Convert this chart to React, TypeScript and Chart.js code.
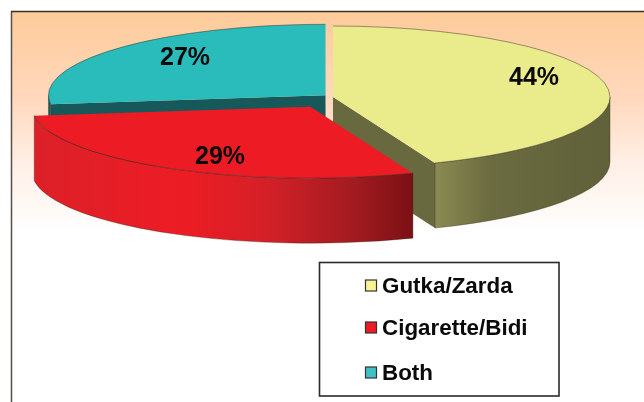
import React, { useEffect, useRef } from "react";
import { Chart, registerables } from "chart.js";

Chart.register(...registerables);

const categories = ["Gutka/Zarda", "Cigarette/Bidi", "Both"];
const shares = [44, 29, 27];
const sliceColors = ["#EAEB8B", "#ED1C24", "#2ABBBB"];
const swatchColors = ["#F8F493", "#ED1C24", "#40BFC4"];
const sliceOffsets = [0, 97.5, 21.9];

const W = 644;
const H = 402;
const CX = 333;
const CY = 97;
const RX = 277;
const RY = 71;
const DEPTH = 65;
const labelSpots = [
  [534, 78],
  [220, 157],
  [185, 58],
];
const legendBox = { left: 319.5, top: 262.5, right: 559, bottom: 396 };
const legendRows = [286, 328, 373];

type Geo = { x: number; y: number; rx: number; ry: number; a0: number; a1: number };

function geometry(arc: any): Geo {
  const sx = RX / arc.outerRadius;
  const sy = RY / arc.outerRadius;
  const off = (arc.options.offset || 0) / 4;
  const mid = (arc.startAngle + arc.endAngle) / 2;
  const grow = off * (1 - Math.sin(Math.min(Math.PI, arc.circumference)));
  return {
    x: CX + Math.cos(mid) * off * sx,
    y: CY + Math.sin(mid) * off * sy,
    rx: (arc.outerRadius + grow) * sx,
    ry: (arc.outerRadius + grow) * sy,
    a0: arc.startAngle,
    a1: arc.endAngle,
  };
}

function outerWall(ctx: CanvasRenderingContext2D, g: Geo, fill: any) {
  const s = Math.max(g.a0, 0);
  const e = Math.min(g.a1, Math.PI);
  if (e <= s) return;
  ctx.beginPath();
  ctx.ellipse(g.x, g.y, g.rx, g.ry, 0, s, e);
  ctx.ellipse(g.x, g.y + DEPTH, g.rx, g.ry, 0, e, s, true);
  ctx.closePath();
  ctx.fillStyle = fill;
  ctx.fill();
  ctx.strokeStyle = "rgba(50,40,30,0.45)";
  ctx.lineWidth = 0.8;
  ctx.stroke();
}

function radialWall(ctx: CanvasRenderingContext2D, g: Geo, angle: number, fill: string) {
  const ex = g.x + Math.cos(angle) * g.rx;
  const ey = g.y + Math.sin(angle) * g.ry;
  ctx.beginPath();
  ctx.moveTo(g.x, g.y);
  ctx.lineTo(ex, ey);
  ctx.lineTo(ex, ey + DEPTH);
  ctx.lineTo(g.x, g.y + DEPTH);
  ctx.closePath();
  ctx.fillStyle = fill;
  ctx.fill();
}

function xGradient(ctx: CanvasRenderingContext2D, x0: number, x1: number, stops: [number, string][]) {
  const grad = ctx.createLinearGradient(x0, 0, x1, 0);
  stops.forEach(([p, c]) => grad.addColorStop(p, c));
  return grad;
}

const pie3d = {
  id: "pie3d",
  beforeDraw(chart: any) {
    const { ctx } = chart;
    ctx.save();
    const bg = ctx.createLinearGradient(0, 11, 0, 226);
    bg.addColorStop(0, "#FDCB99");
    bg.addColorStop(0.4, "#FFD8BC");
    bg.addColorStop(0.72, "#FFF0E6");
    bg.addColorStop(1, "#FFFDFC");
    ctx.fillStyle = bg;
    ctx.fillRect(11, 11, W - 11, 215);
    ctx.lineWidth = 1.5;
    ctx.strokeStyle = "#555049";
    ctx.beginPath();
    ctx.moveTo(11.5, H);
    ctx.lineTo(11.5, 11.5);
    ctx.stroke();
    ctx.strokeStyle = "#3E2F24";
    ctx.beginPath();
    ctx.moveTo(11, 11.5);
    ctx.lineTo(W, 11.5);
    ctx.stroke();
    ctx.restore();
  },
  beforeDatasetsDraw(chart: any) {
    const { ctx } = chart;
    const arcs = chart.getDatasetMeta(0).data;
    const [yellow, red, teal] = arcs.map(geometry);
    ctx.save();
    radialWall(ctx, teal, teal.a0, "#17585A");
    outerWall(ctx, teal, "#17585A");
    radialWall(ctx, yellow, yellow.a1, "#69693F");
    outerWall(
      ctx,
      yellow,
      xGradient(ctx, 436, 610, [
        [0, "#8A8A52"],
        [0.3, "#6C6C41"],
        [1, "#606039"],
      ])
    );
    outerWall(
      ctx,
      red,
      xGradient(ctx, 35, 414, [
        [0, "#DC2028"],
        [0.4, "#ED1C24"],
        [0.62, "#D32028"],
        [0.85, "#A01B20"],
        [1, "#7A1014"],
      ])
    );
    ctx.restore();
  },
  beforeDatasetDraw(chart: any) {
    const arc = chart.getDatasetMeta(0).data[0];
    const { ctx } = chart;
    ctx.save();
    ctx.translate(CX, CY);
    ctx.scale(RX / arc.outerRadius, RY / arc.outerRadius);
    ctx.translate(-arc.x, -arc.y);
  },
  afterDatasetDraw(chart: any) {
    chart.ctx.restore();
  },
  afterDatasetsDraw(chart: any) {
    const { ctx } = chart;
    const arcs = chart.getDatasetMeta(0).data;
    ctx.save();
    ctx.lineWidth = 0.8;
    ctx.strokeStyle = "rgba(50,45,35,0.6)";
    arcs.forEach((arc: any) => {
      const g = geometry(arc);
      ctx.beginPath();
      ctx.ellipse(g.x, g.y, g.rx, g.ry, 0, g.a0, g.a1);
      ctx.stroke();
    });

    ctx.fillStyle = "#0A0A0A";
    ctx.font = 'bold 25px "Liberation Sans", Arial, sans-serif';
    ctx.textAlign = "center";
    ctx.textBaseline = "middle";
    shares.forEach((v, i) => {
      ctx.fillText(`${v}%`, labelSpots[i][0], labelSpots[i][1]);
    });

    // legend
    const b = legendBox;
    ctx.fillStyle = "#FFFFFF";
    ctx.fillRect(b.left, b.top, b.right - b.left, b.bottom - b.top);
    ctx.strokeStyle = "#2A2A2A";
    ctx.lineWidth = 1.6;
    ctx.strokeRect(b.left, b.top, b.right - b.left, b.bottom - b.top);
    ctx.textAlign = "left";
    ctx.font = 'bold 22.4px "Liberation Sans", Arial, sans-serif';
    categories.forEach((name, i) => {
      const y = legendRows[i];
      ctx.fillStyle = swatchColors[i];
      ctx.fillRect(365.5, y - 6, 11, 11);
      ctx.strokeStyle = "#333333";
      ctx.lineWidth = 1.2;
      ctx.strokeRect(365.5, y - 6, 11, 11);
      ctx.fillStyle = "#0A0A0A";
      ctx.fillText(name, 382, y + 1);
    });
    ctx.restore();
  },
};

export default function App() {
  const ref = useRef<HTMLCanvasElement>(null);
  useEffect(() => {
    if (!ref.current) return;
    const chart = new Chart(ref.current, {
      type: "pie",
      data: {
        labels: categories,
        datasets: [
          {
            data: shares,
            backgroundColor: sliceColors,
            borderWidth: 0,
            offset: sliceOffsets,
            hoverOffset: 0,
          },
        ],
      },
      options: {
        animation: false,
        responsive: false,
        devicePixelRatio: 1,
        events: [],
        layout: { padding: 0 },
        plugins: { legend: { display: false }, tooltip: { enabled: false } },
      },
      plugins: [pie3d],
    } as any);
    return () => chart.destroy();
  }, []);
  return (
    <div style={{ position: "absolute", left: 0, top: 0, width: W, height: H, background: "#fff" }}>
      <canvas ref={ref} width={W} height={H} style={{ display: "block" }} />
    </div>
  );
}
